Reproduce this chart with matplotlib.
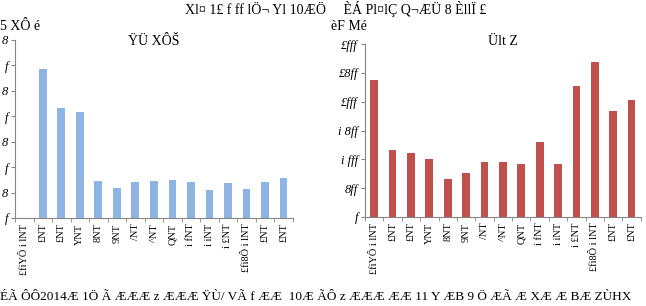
import numpy as np
import matplotlib.pyplot as plt

# month labels (as they render in the source picture)
months = ['£fiYÔ i lNT', '£NT', '£NT', 'YNT', '8NT', '9NT', '/NT', '^NT',
          'QNT', 'i fNT', 'i iNT', 'i £NT', '£fi8Ô i lNT', '£NT', '£NT']

# left panel (first month has no value)
left_vals = [np.nan, 29.3, 21.6, 20.9, 7.2, 5.8, 7.0, 7.3, 7.5, 7.0, 5.6, 6.8, 5.7, 7.1, 7.9]
left_ticks = [0, 5, 10, 15, 20, 25, 30, 35]
left_ticklabels = ['f', '8', 'f', '8', 'f', '8', 'f', '8']

# right panel
right_vals = [2376, 1162, 1104, 1000, 659, 757, 960, 948, 919, 1295, 913, 2277, 2682, 1844, 2029]
right_ticks = [0, 500, 1000, 1500, 2000, 2500, 3000]
right_ticklabels = ['f', '8ff', 'i fff', 'i 8ff', '£fff', '£8ff', '£fff']

fig = plt.figure(figsize=(6.46, 3.06), dpi=100)
serif = ['Liberation Serif', 'DejaVu Serif']
grey = '#868686'

def draw(ax, vals, ticks, ticklabels, color, title, ty):
    x = np.arange(len(vals))
    ax.bar(x, vals, width=0.42, color=color, zorder=2)
    ax.set_xlim(-0.5, len(vals) - 0.5)
    ax.set_ylim(ticks[0], ticks[-1])
    ax.set_yticks(ticks)
    ax.set_yticklabels(ticklabels, family=serif, fontsize=9, style='italic')
    ax.set_xticks(x)
    ax.set_xticklabels(months, rotation=90, family=serif, fontsize=7.5)
    ax.set_xticks(np.arange(-0.5, len(vals)), minor=True)
    ax.tick_params(axis='x', which='major', length=0, pad=4)
    ax.tick_params(axis='x', which='minor', length=3, color=grey, direction='out')
    ax.tick_params(axis='y', length=3, color=grey, direction='out', pad=2)
    for s in ['top', 'right']:
        ax.spines[s].set_visible(False)
    for s in ['left', 'bottom']:
        ax.spines[s].set_color(grey)
        ax.spines[s].set_linewidth(0.8)
    ax.text(0.5, ty, title, transform=ax.transAxes, family=serif, fontsize=10,
            ha='center', va='bottom')

ax1 = fig.add_axes([0.0232, 0.2876, 0.430, 0.5817])
draw(ax1, left_vals, left_ticks, left_ticklabels, '#8DB4E2', 'ŸÜ XÔŠ', 0.955)

ax2 = fig.add_axes([0.565, 0.291, 0.427, 0.565])
draw(ax2, right_vals, right_ticks, right_ticklabels, '#C0504D', 'Ült Z', 0.975)

# unit labels
fig.text(0.0, 0.912, '5 XÔ é', family=serif, fontsize=10, va='center', ha='left')
fig.text(0.513, 0.912, 'èF Mé', family=serif, fontsize=10, va='center', ha='left')

# top title
fig.text(0.52, 0.998, 'Xl¤ 1£ f ff lÖ¬ Yl 10ÆÖ     ÈÁ Pl¤lÇ Q¬ÆÜ 8 ÈllÏ £',
         family=serif, fontsize=10, ha='center', va='top')

# source line
fig.text(0.0, 0.028, 'ÉÃ ÔÔ2014Æ 1Ö Ã ÆÆÆ z ÆÆÆ ŸÙ/ VÃ f ÆÆ  10Æ ÃÔ z ÆÆÆ ÆÆ 11 Y ÆB 9 Ö ÆÃ Æ XÆ Æ BÆ ZÙHX',
         family=serif, fontsize=9.5, ha='left', va='center')

fig.savefig('out.png', dpi=100)
